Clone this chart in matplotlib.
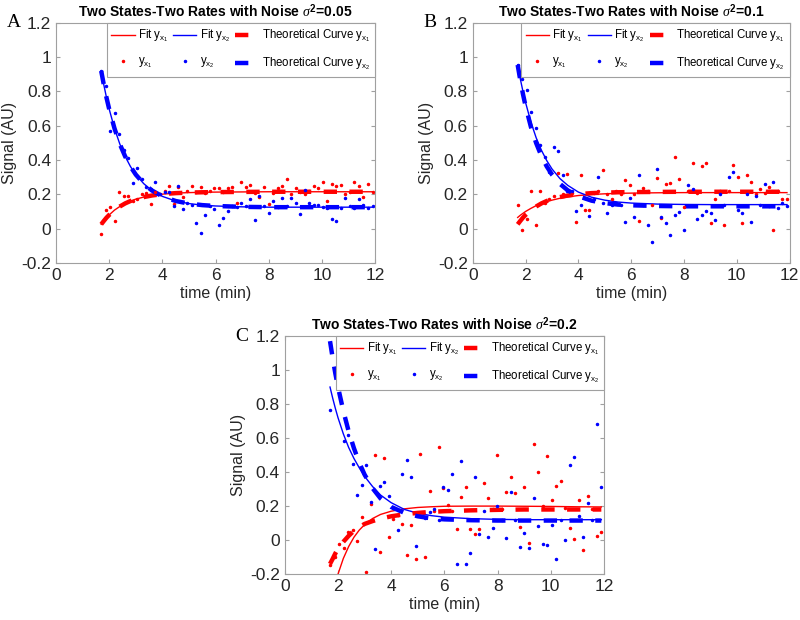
import matplotlib
matplotlib.use('Agg')
import matplotlib.pyplot as plt

plt.rcParams['font.family'] = ['Liberation Sans', 'DejaVu Sans']
plt.rcParams['mathtext.fontset'] = 'custom'
plt.rcParams['mathtext.rm'] = 'Liberation Sans'
plt.rcParams['mathtext.it'] = 'Liberation Serif:italic'
plt.rcParams['mathtext.bf'] = 'Liberation Sans:bold'

# sample times of the noisy measurements (min)
t_pts = [1.70, 1.87, 2.04, 2.21, 2.38, 2.55, 2.72, 2.89, 3.06, 3.23,
         3.40, 3.57, 3.74, 3.91, 4.08, 4.25, 4.42, 4.59, 4.76, 4.93,
         5.10, 5.27, 5.44, 5.61, 5.78, 5.95, 6.12, 6.29, 6.46, 6.63,
         6.80, 6.97, 7.14, 7.31, 7.48, 7.65, 7.82, 7.99, 8.16, 8.33,
         8.50, 8.67, 8.84, 9.01, 9.18, 9.35, 9.52, 9.69, 9.86, 10.03,
         10.20, 10.37, 10.54, 10.71, 10.88, 11.05, 11.22, 11.39, 11.56, 11.73,
         11.90]

# panel A, noise 0.05
a_pts_x1 = [-0.03, 0.107, 0.126, 0.043, 0.214, 0.19, 0.19, 0.16, 0.17, 0.20,
            0.21, 0.144, 0.216, 0.20, 0.22, 0.247, 0.146, 0.243, 0.185, 0.218,
            0.249, 0.212, 0.241, 0.21, 0.22, 0.237, 0.235, 0.215, 0.237, 0.243,
            0.15, 0.274, 0.24, 0.255, 0.21, 0.185, 0.24, 0.142, 0.21, 0.235,
            0.25, 0.29, 0.20, 0.235, 0.216, 0.20, 0.218, 0.247, 0.237, 0.274,
            0.16, 0.26, 0.247, 0.253, 0.20, 0.215, 0.272, 0.247, 0.185, 0.26,
            0.215]
a_pts_x2 = [0.92, 0.83, 0.57, 0.675, 0.55, 0.46, 0.41, 0.267, 0.354, 0.29,
            0.24, 0.23, 0.272, 0.20, 0.214, 0.212, 0.13, 0.247, 0.115, 0.15,
            0.14, 0.03, -0.025, 0.08, 0.13, 0.115, 0.023, 0.06, 0.10, 0.13,
            0.125, 0.15, 0.13, 0.173, 0.049, 0.19, 0.13, 0.09, 0.16, 0.125,
            0.177, 0.13, 0.18, 0.15, 0.088, 0.228, 0.15, 0.14, 0.14, 0.126,
            0.12, 0.058, 0.043, 0.12, 0.18, 0.13, 0.12, 0.17, 0.14, 0.12,
            0.13]

# panel B, noise 0.1
b_pts_x1 = [0.136, -0.006, 0.056, 0.222, 0.023, 0.222, 0.15, 0.17, 0.19, 0.325,
            0.20, 0.32, 0.21, 0.04, 0.31, 0.11, 0.107, 0.21, 0.22, 0.344,
            0.20, 0.175, 0.22, 0.20, 0.284, 0.253, 0.20, 0.047, 0.237, 0.22,
            0.138, 0.296, 0.062, 0.26, 0.265, 0.418, 0.29, 0.126, 0.22, 0.38,
            0.21, 0.364, 0.383, 0.033, 0.17, 0.22, 0.02, 0.22, 0.37, 0.30,
            0.033, 0.31, 0.27, 0.20, 0.23, 0.21, 0.24, -0.006, 0.22, 0.175,
            0.17]
b_pts_x2 = [0.957, 0.87, 0.81, 0.68, 0.587, 0.49, 0.42, 0.33, 0.476, 0.45,
            0.315, 0.22, 0.218, 0.10, 0.136, 0.18, 0.076, 0.17, 0.30, 0.15,
            0.09, 0.136, 0.15, 0.14, 0.037, 0.18, 0.07, 0.31, 0.14, 0.019,
            -0.08, 0.348, 0.068, 0.033, -0.035, 0.078, 0.097, -0.006, 0.257, 0.233,
            0.054, 0.082, 0.103, 0.09, 0.052, 0.20, 0.14, 0.30, 0.333, 0.107,
            0.09, 0.20, 0.037, 0.19, 0.14, 0.26, 0.13, 0.27, 0.12, 0.15,
            0.13]

# panel C, noise 0.2
c_pts_x1 = [-0.145, -0.10, -0.023, -0.047, 0.047, 0.06, -0.004, 0.137, -0.19, 0.211,
            0.50, -0.07, 0.485, 0.018, 0.125, 0.15, 0.096, -0.09, 0.088, -0.11,
            0.509, -0.098, 0.29, 0.17, 0.55, 0.305, 0.207, 0.17, 0.063, 0.256,
            0.31, 0.066, 0.033, 0.064, 0.336, 0.245, 0.18, 0.50, 0.18, 0.28,
            0.37, 0.275, 0.08, 0.315, -0.018, 0.564, 0.40, 0.20, 0.497, 0.237,
            0.32, 0.348, 0.19, 0.074, 0.008, 0.235, -0.06, 0.26, 0.18, 0.025,
            0.05]
c_pts_x2 = [0.765, 1.0, 0.925, 0.58, 0.62, 0.45, 0.264, 0.325, 0.444, 0.223,
            -0.053, 0.32, 0.342, 0.26, 0.19, 0.057, 0.39, 0.47, 0.37, -0.035,
            0.14, 0.13, 0.168, 0.18, 0.12, 0.315, 0.295, 0.387, -0.138, 0.468,
            -0.138, -0.077, 0.37, 0.035, 0.17, 0.02, 0.07, 0.20, 0.12, 0.014,
            0.28, 0.12, -0.043, 0.043, -0.045, 0.247, 0.082, -0.022, -0.03, 0.086,
            -0.113, 0.12, 0.002, 0.44, 0.487, 0.143, 0.018, 0.22, 0.12, 0.685,
            0.31]

t_curve = [1.7, 1.8, 1.9, 2.0, 2.2, 2.4, 2.6, 2.8, 3.0, 3.3, 3.6, 4.0,
           4.5, 5.0, 5.5, 6.0, 7.0, 8.0, 9.0, 10.0, 11.0, 11.9]

a_fit_x1 = [0.025, 0.045, 0.064, 0.080, 0.108, 0.129, 0.147, 0.161, 0.172, 0.184, 0.193, 0.201,
            0.207, 0.210, 0.212, 0.213, 0.214, 0.215, 0.215, 0.215, 0.215, 0.215]
a_fit_x2 = [0.920, 0.837, 0.763, 0.697, 0.584, 0.493, 0.421, 0.362, 0.315, 0.262, 0.223, 0.188,
            0.161, 0.146, 0.137, 0.132, 0.127, 0.125, 0.125, 0.125, 0.125, 0.125]
a_theo_x1 = [0.025, 0.045, 0.064, 0.080, 0.108, 0.129, 0.147, 0.161, 0.172, 0.184, 0.193, 0.201,
             0.207, 0.210, 0.212, 0.213, 0.214, 0.215, 0.215, 0.215, 0.215, 0.215]
a_theo_x2 = [0.920, 0.837, 0.763, 0.697, 0.584, 0.493, 0.421, 0.362, 0.315, 0.262, 0.223, 0.188,
             0.161, 0.146, 0.137, 0.132, 0.127, 0.125, 0.125, 0.125, 0.125, 0.125]

b_fit_x1 = [0.065, 0.078, 0.089, 0.100, 0.118, 0.134, 0.147, 0.157, 0.166, 0.177, 0.185, 0.193,
            0.199, 0.203, 0.206, 0.207, 0.209, 0.210, 0.210, 0.210, 0.210, 0.210]
b_fit_x2 = [0.955, 0.873, 0.800, 0.735, 0.622, 0.530, 0.457, 0.397, 0.348, 0.292, 0.252, 0.213,
            0.183, 0.166, 0.155, 0.149, 0.143, 0.141, 0.140, 0.140, 0.140, 0.140]
b_theo_x1 = [0.025, 0.045, 0.064, 0.080, 0.108, 0.129, 0.147, 0.161, 0.172, 0.184, 0.193, 0.201,
             0.207, 0.210, 0.212, 0.213, 0.214, 0.215, 0.215, 0.215, 0.215, 0.215]
b_theo_x2 = [0.955, 0.865, 0.785, 0.714, 0.594, 0.499, 0.423, 0.363, 0.315, 0.261, 0.223, 0.189,
             0.163, 0.149, 0.140, 0.136, 0.132, 0.130, 0.130, 0.130, 0.130, 0.130]

c_fit_x1 = [-0.390, -0.319, -0.256, -0.200, -0.108, -0.038, 0.017, 0.059, 0.091, 0.127, 0.151, 0.170,
            0.184, 0.192, 0.196, 0.199, 0.200, 0.200, 0.199, 0.198, 0.196, 0.195]
c_fit_x2 = [0.900, 0.835, 0.775, 0.720, 0.625, 0.545, 0.480, 0.425, 0.375, 0.315, 0.265, 0.220,
            0.180, 0.158, 0.144, 0.135, 0.126, 0.122, 0.120, 0.120, 0.120, 0.120]
c_theo_x1 = [-0.140, -0.110, -0.078, -0.050, -0.010, 0.025, 0.055, 0.077, 0.095, 0.112, 0.126, 0.140,
             0.152, 0.160, 0.166, 0.170, 0.175, 0.178, 0.180, 0.180, 0.180, 0.180]
c_theo_x2 = [1.170, 1.070, 0.980, 0.900, 0.760, 0.640, 0.540, 0.455, 0.385, 0.305, 0.245, 0.195,
             0.160, 0.140, 0.128, 0.122, 0.117, 0.115, 0.115, 0.115, 0.115, 0.115]

panels = [
    ('A', '0.05', [0.070, 0.576, 0.399, 0.387],
     a_pts_x1, a_pts_x2, a_fit_x1, a_fit_x2, a_theo_x1, a_theo_x2),
    ('B', '0.1', [0.591, 0.576, 0.396, 0.387],
     b_pts_x1, b_pts_x2, b_fit_x1, b_fit_x2, b_theo_x1, b_theo_x2),
    ('C', '0.2', [0.356, 0.074, 0.399, 0.384],
     c_pts_x1, c_pts_x2, c_fit_x1, c_fit_x2, c_theo_x1, c_theo_x2),
]

fig = plt.figure(figsize=(8, 6.2), dpi=100)

for letter, noise, pos, p1, p2, f1, f2, th1, th2 in panels:
    ax = fig.add_axes(pos)
    h_fit1, = ax.plot(t_curve, f1, color='red', lw=1.0, label=r'Fit $\mathrm{y_{x_1}}$')
    h_fit2, = ax.plot(t_curve, f2, color='blue', lw=1.0, label=r'Fit $\mathrm{y_{x_2}}$')
    h_th1, = ax.plot(t_curve, th1, color='red', lw=3.2, dashes=(3.0, 2.8),
                     label=r'Theoretical Curve $\mathrm{y_{x_1}}$')
    h_th2, = ax.plot(t_curve, th2, color='blue', lw=3.2, dashes=(3.0, 2.8),
                     label=r'Theoretical Curve $\mathrm{y_{x_2}}$')
    h_p1, = ax.plot(t_pts, p1, '.', color='red', ms=3, label=r'$\mathrm{y_{x_1}}$')
    h_p2, = ax.plot(t_pts, p2, '.', color='blue', ms=3, label=r'$\mathrm{y_{x_2}}$')

    ax.set_xlim(0, 12)
    ax.set_ylim(-0.2, 1.2)
    ax.set_xticks([0, 2, 4, 6, 8, 10, 12])
    ax.set_yticks([-0.2, 0, 0.2, 0.4, 0.6, 0.8, 1, 1.2])
    ax.set_yticklabels(['-0.2', '0', '0.2', '0.4', '0.6', '0.8', '1', '1.2'])
    ax.tick_params(direction='in', top=True, right=True, labelsize=12.5,
                   colors='#a0a0a0', labelcolor='#262626', length=3)
    for s in ax.spines.values():
        s.set_color('#a0a0a0')
        s.set_linewidth(0.8)
    ax.set_xlabel('time (min)', fontsize=11.5, color='#262626', labelpad=2)
    ax.set_ylabel('Signal (AU)', fontsize=11.5, color='#262626', labelpad=3)
    ax.set_title(r'Two States-Two Rates with Noise $\sigma^{\mathbf{2}}$=' + noise,
                 fontsize=10, fontweight='bold', pad=4)

    leg = ax.legend([h_fit1, h_p1, h_fit2, h_p2, h_th1, h_th2],
                    [h.get_label() for h in [h_fit1, h_p1, h_fit2, h_p2, h_th1, h_th2]],
                    ncol=3, loc='upper right', bbox_to_anchor=(1, 1), borderaxespad=0,
                    fontsize=8.3, handlelength=2.0, handletextpad=0.3, columnspacing=0.4,
                    labelspacing=1.0, fancybox=False, framealpha=1, edgecolor='#a0a0a0',
                    borderpad=0.4)
    leg.get_frame().set_linewidth(0.8)

    bb = ax.get_position()
    fig.text(bb.x0 - 0.062, bb.y1 + 0.0, letter, fontsize=14,
             family=['Liberation Serif', 'DejaVu Serif'], va='center', ha='left')

fig.savefig('out.png', dpi=100)
